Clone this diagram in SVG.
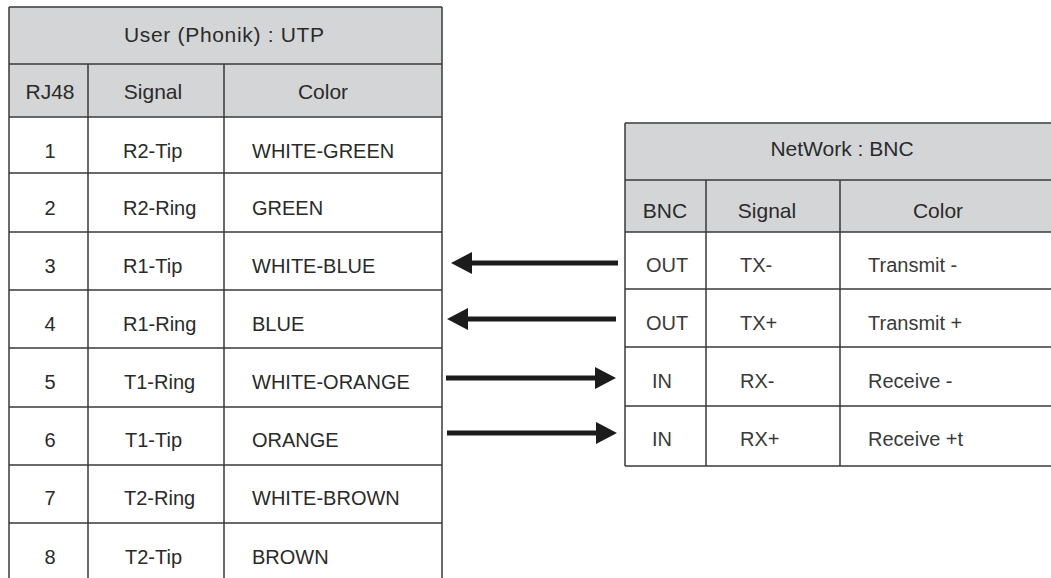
<svg xmlns="http://www.w3.org/2000/svg" width="1051" height="578" viewBox="0 0 1051 578">
<style>
.hdr{fill:#d4d5d7}
.ln{stroke:#3a3a3a;stroke-width:1.5;fill:none}
.t{font-family:"Liberation Sans",Arial,sans-serif;font-size:20px;fill:#2a2a2a}
.h{font-family:"Liberation Sans",Arial,sans-serif;font-size:21px;fill:#2a2a2a;text-anchor:middle}
.l{font-family:"Liberation Sans",Arial,sans-serif;font-size:20px;fill:#3a3a3a}
.c{text-anchor:middle}
.arr{stroke:#1c1c1c;stroke-width:5;fill:none;marker-end:url(#ah)}
</style>
<defs>
<marker id="ah" viewBox="0 0 21 22" refX="0" refY="11" markerWidth="21" markerHeight="22" markerUnits="userSpaceOnUse" orient="auto">
<path d="M0,0 L21,11 L0,22 Z" fill="#1c1c1c"/>
</marker>
</defs>
<rect width="1051" height="578" fill="#fff"/>

<g id="user-utp">
<rect class="hdr" x="9" y="7" width="433" height="110"/>
<g class="ln">
<path d="M9,7H442M9,64H442M9,117H442M9,173H442M9,232H442M9,290H442M9,348H442M9,407H442M9,465H442M9,523H442"/>
<path d="M9,7V578M442,7V578M88,64V578M224,64V578"/>
</g>
<text class="h" x="224" y="42" textLength="200" lengthAdjust="spacing">User (Phonik) : UTP</text>
<text class="h" x="50" y="99">RJ48</text>
<text class="h" x="153" y="99">Signal</text>
<text class="h" x="323" y="99">Color</text>
<g class="t">
<text class="c" x="50" y="158">1</text>
<text class="c" x="50" y="215">2</text>
<text class="c" x="50" y="273">3</text>
<text class="c" x="50" y="331">4</text>
<text class="c" x="50" y="389">5</text>
<text class="c" x="50" y="447">6</text>
<text class="c" x="50" y="505">7</text>
<text class="c" x="50" y="564">8</text>
<text x="123" y="158">R2-Tip</text>
<text x="123" y="215">R2-Ring</text>
<text x="123" y="273">R1-Tip</text>
<text x="123" y="331">R1-Ring</text>
<text x="124" y="389">T1-Ring</text>
<text x="125" y="447">T1-Tip</text>
<text x="124" y="505">T2-Ring</text>
<text x="125" y="564">T2-Tip</text>
<text x="252" y="158">WHITE-GREEN</text>
<text x="252" y="215">GREEN</text>
<text x="252" y="273">WHITE-BLUE</text>
<text x="252" y="331">BLUE</text>
<text x="252" y="389">WHITE-ORANGE</text>
<text x="252" y="447">ORANGE</text>
<text x="252" y="505">WHITE-BROWN</text>
<text x="252" y="564">BROWN</text>
</g>
</g>

<g id="network-bnc">
<rect class="hdr" x="625" y="123" width="426" height="109"/>
<g class="ln">
<path d="M625,123H1051M625,180H1051M625,232H1051M625,289H1051M625,347H1051M625,406H1051M625,466H1051"/>
<path d="M625,123V466M706,180V466M840,180V466"/>
</g>
<text class="h" x="842" y="156">NetWork : BNC</text>
<text class="h" x="665" y="218">BNC</text>
<text class="h" x="767" y="218">Signal</text>
<text class="h" x="938" y="218">Color</text>
<g class="l">
<text x="646" y="272">OUT</text>
<text x="646" y="330">OUT</text>
<text x="652" y="388">IN</text>
<text x="652" y="446">IN</text>
<text x="740" y="272">TX-</text>
<text x="740" y="330">TX+</text>
<text x="740" y="388">RX-</text>
<text x="740" y="446">RX+</text>
<text x="868" y="272">Transmit -</text>
<text x="868" y="330">Transmit +</text>
<text x="868" y="388">Receive -</text>
<text x="868" y="446">Receive +t</text>
</g>
</g>

<g id="connectors">
<line class="arr" x1="618" y1="263" x2="472" y2="263"/>
<line class="arr" x1="616" y1="319" x2="468" y2="319"/>
<line class="arr" x1="446" y1="378" x2="595" y2="378"/>
<line class="arr" x1="447" y1="433" x2="596" y2="433"/>
</g>
</svg>
